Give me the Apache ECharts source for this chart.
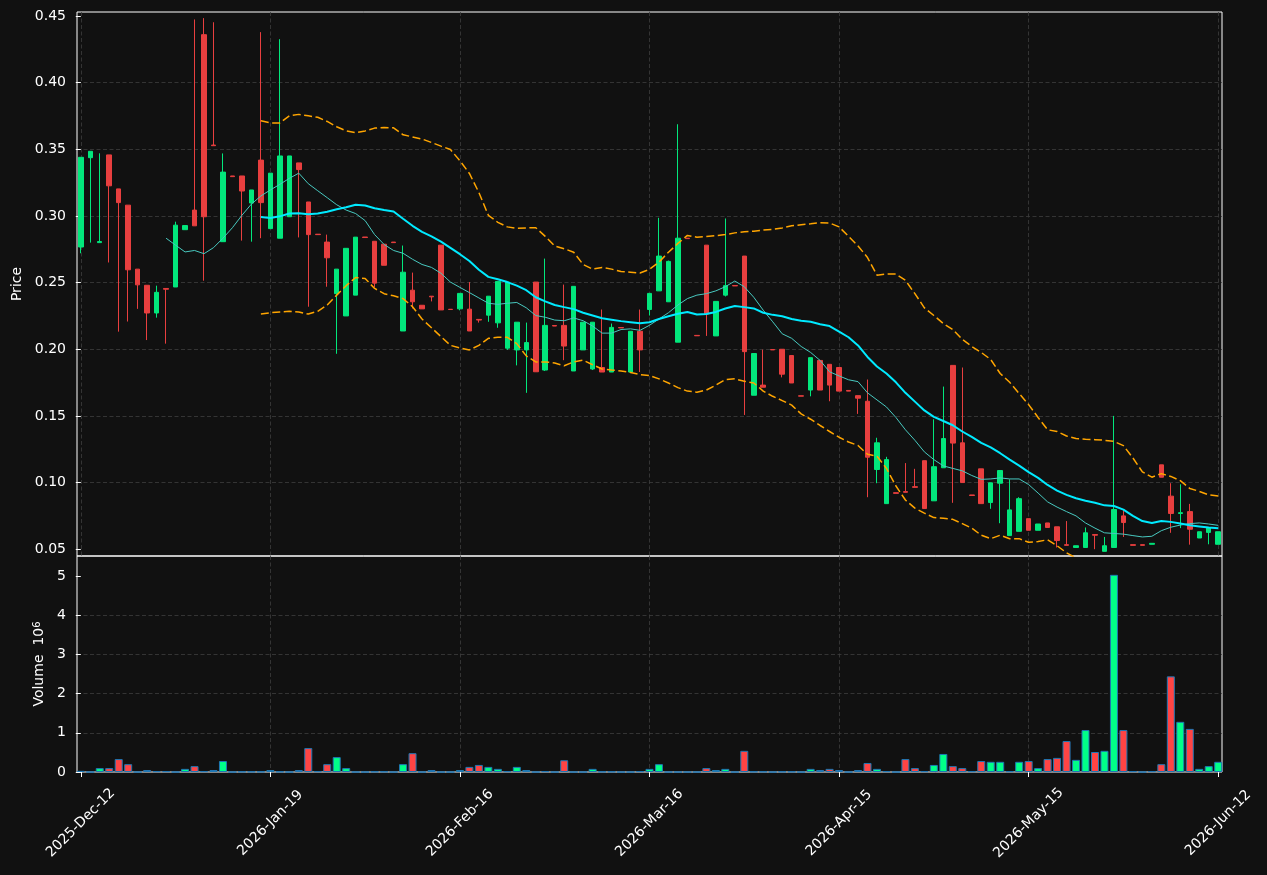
<!DOCTYPE html>
<html>
<head>
<meta charset="utf-8">
<script src="https://cdn.jsdelivr.net/npm/echarts@6.0.0/dist/echarts.min.js"></script>
<style>
  html, body { margin: 0; padding: 0; background: #111111; }
  #main { width: 1267px; height: 875px; }
</style>
</head>
<body>
<div id="main"></div>
<script>
  const dates = [
    '2025-Dec-12','2025-Dec-15','2025-Dec-16','2025-Dec-17','2025-Dec-18','2025-Dec-19','2025-Dec-22','2025-Dec-23','2025-Dec-29','2025-Dec-30',
    '2026-Jan-05','2026-Jan-06','2026-Jan-07','2026-Jan-08','2026-Jan-09','2026-Jan-12','2026-Jan-13','2026-Jan-14','2026-Jan-15','2026-Jan-16',
    '2026-Jan-19','2026-Jan-20','2026-Jan-21','2026-Jan-22','2026-Jan-23','2026-Jan-26','2026-Jan-27','2026-Jan-28','2026-Jan-29','2026-Jan-30',
    '2026-Feb-02','2026-Feb-03','2026-Feb-04','2026-Feb-05','2026-Feb-06','2026-Feb-09','2026-Feb-10','2026-Feb-11','2026-Feb-12','2026-Feb-13',
    '2026-Feb-16','2026-Feb-17','2026-Feb-18','2026-Feb-19','2026-Feb-20','2026-Feb-23','2026-Feb-24','2026-Feb-25','2026-Feb-26','2026-Feb-27',
    '2026-Mar-02','2026-Mar-03','2026-Mar-04','2026-Mar-05','2026-Mar-06','2026-Mar-09','2026-Mar-10','2026-Mar-11','2026-Mar-12','2026-Mar-13',
    '2026-Mar-16','2026-Mar-17','2026-Mar-18','2026-Mar-19','2026-Mar-20','2026-Mar-23','2026-Mar-24','2026-Mar-25','2026-Mar-26','2026-Mar-27',
    '2026-Mar-30','2026-Mar-31','2026-Apr-01','2026-Apr-02','2026-Apr-07','2026-Apr-08','2026-Apr-09','2026-Apr-10','2026-Apr-13','2026-Apr-14',
    '2026-Apr-15','2026-Apr-16','2026-Apr-17','2026-Apr-20','2026-Apr-21','2026-Apr-22','2026-Apr-23','2026-Apr-24','2026-Apr-27','2026-Apr-28',
    '2026-Apr-29','2026-Apr-30','2026-May-04','2026-May-05','2026-May-06','2026-May-07','2026-May-08','2026-May-11','2026-May-12','2026-May-13',
    '2026-May-15','2026-May-18','2026-May-19','2026-May-20','2026-May-21','2026-May-22','2026-May-25','2026-May-26','2026-May-27','2026-May-28',
    '2026-May-29','2026-Jun-01','2026-Jun-02','2026-Jun-03','2026-Jun-04','2026-Jun-05','2026-Jun-08','2026-Jun-09','2026-Jun-10','2026-Jun-11',
    '2026-Jun-12'
  ];

  const opens = [
    0.2767,0.3437,0.2800,0.3458,0.3203,0.3081,0.2601,0.2480,0.2272,0.2456,
    0.2467,0.2897,0.3044,0.4360,0.3532,0.2807,0.3300,0.3300,0.3097,0.3419,
    0.2905,0.2833,0.2994,0.3398,0.3105,0.2863,0.2804,0.2417,0.2250,0.2406,
    0.2842,0.2810,0.2788,0.2804,0.2137,0.2443,0.2330,0.2398,0.2781,0.2300,
    0.2303,0.2301,0.2224,0.2256,0.2198,0.2008,0.1995,0.1995,0.2504,0.1844,
    0.2178,0.2179,0.1837,0.1995,0.1852,0.1863,0.1829,0.2163,0.1829,0.2135,
    0.2298,0.2438,0.2356,0.2053,0.2833,0.2104,0.2781,0.2100,0.2406,0.2478,
    0.2699,0.1655,0.1731,0.1998,0.2000,0.1953,0.1651,0.1694,0.1916,0.1887,
    0.1863,0.1691,0.1652,0.1610,0.1098,0.0842,0.0924,0.0932,0.0969,0.1164,
    0.0863,0.1111,0.1879,0.1298,0.0907,0.1103,0.0850,0.0995,0.0602,0.0634,
    0.0729,0.0642,0.0697,0.0668,0.0534,0.0513,0.0513,0.0610,0.0484,0.0513,
    0.0750,0.0534,0.0534,0.0537,0.1133,0.0898,0.0768,0.0782,0.0584,0.0626,
    0.0537
  ];
  const closes = [
    0.3440,0.3485,0.2808,0.3226,0.3100,0.2596,0.2483,0.2272,0.2427,0.2450,
    0.2931,0.2928,0.2926,0.2994,0.3527,0.3329,0.3295,0.3187,0.3195,0.3100,
    0.3321,0.3450,0.3450,0.3348,0.2860,0.2860,0.2686,0.2601,0.2757,0.2841,
    0.2838,0.2496,0.2630,0.2800,0.2578,0.2356,0.2303,0.2393,0.2295,0.2298,
    0.2419,0.2137,0.2219,0.2398,0.2509,0.2504,0.2203,0.2050,0.1831,0.2179,
    0.2174,0.2024,0.2472,0.2203,0.2203,0.1829,0.2164,0.2160,0.2135,0.1995,
    0.2419,0.2699,0.2659,0.2833,0.2830,0.2101,0.2264,0.2359,0.2477,0.2475,
    0.1982,0.1968,0.1715,0.1995,0.1813,0.1747,0.1648,0.1937,0.1694,0.1731,
    0.1686,0.1686,0.1633,0.1190,0.1298,0.1172,0.0919,0.0927,0.0964,0.0805,
    0.1119,0.1330,0.1296,0.1000,0.0903,0.0842,0.0998,0.1090,0.0795,0.0879,
    0.0642,0.0689,0.0663,0.0565,0.0529,0.0526,0.0623,0.0605,0.0526,0.0798,
    0.0700,0.0529,0.0529,0.0544,0.1040,0.0768,0.0774,0.0650,0.0631,0.0660,
    0.0631
  ];
  const lows = [
    0.2720,0.2800,0.2800,0.2651,0.2132,0.2208,0.2303,0.2069,0.2237,0.2042,
    0.2467,0.2897,0.2926,0.2514,0.3527,0.2807,0.3295,0.2815,0.2807,0.2833,
    0.2905,0.2833,0.2994,0.2839,0.2319,0.2860,0.2469,0.1966,0.2250,0.2406,
    0.2838,0.2464,0.2630,0.2800,0.2137,0.2306,0.2303,0.2359,0.2295,0.2298,
    0.2292,0.2137,0.2200,0.2206,0.2161,0.1995,0.1879,0.1673,0.1831,0.1837,
    0.2174,0.1918,0.1837,0.1995,0.1844,0.1829,0.1829,0.2160,0.1829,0.1829,
    0.2253,0.2438,0.2356,0.2053,0.2830,0.2101,0.2100,0.2100,0.2396,0.2475,
    0.1507,0.1655,0.1715,0.1995,0.1789,0.1747,0.1648,0.1647,0.1694,0.1610,
    0.1686,0.1686,0.1515,0.0890,0.0995,0.0842,0.0919,0.0927,0.0964,0.0805,
    0.0863,0.1111,0.0848,0.1000,0.0903,0.0842,0.0803,0.0695,0.0602,0.0634,
    0.0642,0.0642,0.0663,0.0513,0.0529,0.0513,0.0513,0.0500,0.0484,0.0513,
    0.0592,0.0529,0.0529,0.0537,0.1040,0.0623,0.0658,0.0534,0.0584,0.0537,
    0.0537
  ];
  const highs = [
    0.3440,0.3485,0.3470,0.3458,0.3203,0.3081,0.2601,0.2480,0.2477,0.2456,
    0.2957,0.2928,0.4474,0.4484,0.4453,0.3469,0.3300,0.3300,0.3195,0.4379,
    0.3321,0.4326,0.3450,0.3398,0.3105,0.2863,0.2860,0.2601,0.2757,0.2841,
    0.2842,0.2810,0.2788,0.2804,0.2778,0.2575,0.2330,0.2398,0.2781,0.2300,
    0.2419,0.2504,0.2224,0.2398,0.2509,0.2504,0.2203,0.2200,0.2504,0.2680,
    0.2178,0.2485,0.2472,0.2203,0.2203,0.2298,0.2193,0.2163,0.2135,0.2298,
    0.2419,0.2986,0.2665,0.3688,0.2833,0.2104,0.2781,0.2359,0.2981,0.2478,
    0.2699,0.1968,0.1997,0.1998,0.2000,0.1953,0.1651,0.1937,0.1916,0.1887,
    0.1863,0.1691,0.1652,0.1773,0.1336,0.1193,0.0924,0.1146,0.1103,0.1164,
    0.1475,0.1720,0.1879,0.1863,0.0907,0.1103,0.0998,0.1090,0.1024,0.0890,
    0.0729,0.0689,0.0697,0.0668,0.0711,0.0526,0.0663,0.0610,0.0592,0.1500,
    0.0792,0.0534,0.0534,0.0544,0.1133,0.0995,0.0987,0.0840,0.0631,0.0660,
    0.0631
  ];
  // volume in millions
  const volumes = [
    0.03,0,0.10,0.10,0.33,0.20,0,0.05,0.02,0.02,
    0,0.08,0.15,0.02,0.05,0.28,0,0.01,0.01,0.01,
    0.05,0.01,0,0.05,0.61,0.02,0.20,0.38,0.10,0,
    0,0.01,0.01,0,0.20,0.48,0,0.05,0,0,
    0.05,0.13,0.18,0.13,0.08,0.02,0.13,0.05,0,0.02,
    0,0.30,0,0,0.08,0.01,0.01,0,0,0.02,
    0.08,0.20,0,0,0,0,0.10,0.05,0.08,0,
    0.54,0.01,0.01,0,0.01,0.01,0,0.08,0.05,0.08,
    0.05,0,0.05,0.23,0.08,0.02,0,0.33,0.10,0.02,
    0.18,0.46,0.15,0.10,0.02,0.28,0.26,0.26,0.02,0.26,
    0.28,0.10,0.33,0.36,0.79,0.31,1.07,0.51,0.54,5.03,
    1.07,0.02,0,0.02,0.20,2.44,1.28,1.10,0.08,0.15,
    0.26
  ];
  const ma10 = [
    null,null,null,null,null,null,null,null,null,0.2833,
    0.2781,0.2730,0.2741,0.2717,0.2762,0.2833,0.2912,0.3005,0.3089,0.3150,
    0.3195,0.3237,0.3282,0.3321,0.3242,0.3189,0.3137,0.3084,0.3044,0.3018,
    0.2965,0.2860,0.2786,0.2741,0.2720,0.2675,0.2636,0.2614,0.2570,0.2504,
    0.2464,0.2425,0.2385,0.2345,0.2337,0.2345,0.2351,0.2311,0.2253,0.2240,
    0.2219,0.2214,0.2235,0.2214,0.2174,0.2121,0.2121,0.2148,0.2153,0.2142,
    0.2180,0.2227,0.2274,0.2332,0.2380,0.2406,0.2417,0.2438,0.2469,0.2512,
    0.2469,0.2390,0.2293,0.2206,0.2116,0.2082,0.2021,0.1976,0.1916,0.1831,
    0.1800,0.1771,0.1757,0.1673,0.1620,0.1567,0.1488,0.1396,0.1317,0.1230,
    0.1172,0.1125,0.1106,0.1088,0.1053,0.1024,0.1027,0.1035,0.1027,0.1027,
    0.0985,0.0921,0.0855,0.0816,0.0782,0.0750,0.0697,0.0658,0.0623,0.0618,
    0.0613,0.0602,0.0592,0.0597,0.0639,0.0665,0.0681,0.0692,0.0697,0.0689,
    0.0679
  ];
  const ma20 = [
    null,null,null,null,null,null,null,null,null,null,
    null,null,null,null,null,null,null,null,null,0.2992,
    0.2984,0.2997,0.3018,0.3021,0.3013,0.3018,0.3031,0.3050,0.3065,0.3084,
    0.3079,0.3058,0.3044,0.3034,0.2979,0.2926,0.2881,0.2847,0.2807,0.2760,
    0.2713,0.2662,0.2596,0.2543,0.2525,0.2504,0.2477,0.2443,0.2390,0.2359,
    0.2332,0.2316,0.2301,0.2274,0.2253,0.2232,0.2222,0.2211,0.2203,0.2195,
    0.2203,0.2227,0.2248,0.2266,0.2280,0.2261,0.2264,0.2280,0.2306,0.2324,
    0.2316,0.2306,0.2274,0.2258,0.2248,0.2227,0.2214,0.2206,0.2187,0.2174,
    0.2132,0.2090,0.2029,0.1942,0.1871,0.1818,0.1752,0.1673,0.1607,0.1541,
    0.1493,0.1462,0.1430,0.1383,0.1343,0.1298,0.1264,0.1220,0.1172,0.1127,
    0.1078,0.1035,0.0982,0.0940,0.0908,0.0882,0.0863,0.0848,0.0829,0.0824,
    0.0797,0.0750,0.0711,0.0697,0.0711,0.0705,0.0692,0.0679,0.0671,0.0663,
    0.0658
  ];
  const bbUpper = [
    null,null,null,null,null,null,null,null,null,null,
    null,null,null,null,null,null,null,null,null,0.3714,
    0.3698,0.3698,0.3751,0.3762,0.3751,0.3740,0.3709,0.3669,0.3638,0.3624,
    0.3638,0.3659,0.3664,0.3661,0.3609,0.3593,0.3577,0.3551,0.3524,0.3498,
    0.3414,0.3319,0.3176,0.3005,0.2952,0.2918,0.2907,0.2910,0.2912,0.2847,
    0.2775,0.2754,0.2728,0.2636,0.2601,0.2614,0.2601,0.2583,0.2578,0.2572,
    0.2600,0.2654,0.2728,0.2794,0.2854,0.2841,0.2846,0.2852,0.2860,0.2873,
    0.2881,0.2886,0.2894,0.2900,0.2910,0.2926,0.2934,0.2941,0.2949,0.2947,
    0.2918,0.2847,0.2775,0.2688,0.2556,0.2564,0.2564,0.2517,0.2417,0.2311,
    0.2253,0.2193,0.2148,0.2074,0.2021,0.1976,0.1923,0.1818,0.1752,0.1668,
    0.1585,0.1488,0.1396,0.1383,0.1349,0.1330,0.1325,0.1322,0.1317,0.1309,
    0.1277,0.1185,0.1080,0.1040,0.1067,0.1046,0.1014,0.0956,0.0934,0.0908,
    0.0900
  ];
  const bbLower = [
    null,null,null,null,null,null,null,null,null,null,
    null,null,null,null,null,null,null,null,null,0.2264,
    0.2274,0.2280,0.2285,0.2280,0.2264,0.2285,0.2332,0.2406,0.2477,0.2538,
    0.2530,0.2456,0.2417,0.2401,0.2380,0.2319,0.2227,0.2161,0.2095,0.2029,
    0.2009,0.1995,0.2029,0.2082,0.2090,0.2090,0.2042,0.1950,0.1905,0.1905,
    0.1897,0.1876,0.1905,0.1918,0.1884,0.1852,0.1844,0.1837,0.1826,0.1810,
    0.1803,0.1778,0.1747,0.1712,0.1686,0.1678,0.1694,0.1731,0.1773,0.1778,
    0.1760,0.1747,0.1686,0.1647,0.1615,0.1581,0.1515,0.1475,0.1428,0.1383,
    0.1340,0.1304,0.1278,0.1212,0.1198,0.1106,0.0974,0.0869,0.0808,0.0771,
    0.0737,0.0732,0.0724,0.0692,0.0658,0.0605,0.0579,0.0605,0.0579,0.0579,
    0.0552,0.0557,0.0571,0.0526,0.0473,0.0434,0.0401,0.0374,0.0341,0.0339,
    0.0317,0.0315,0.0342,0.0354,0.0355,0.0364,0.0370,0.0402,0.0408,0.0418,
    0.0416
  ];

  const priceTicks = [0.05, 0.10, 0.15, 0.20, 0.25, 0.30, 0.35, 0.40, 0.45];
  const volumeTicks = [0, 1, 2, 3, 4, 5];
  const dateTicks = [0, 20, 40, 60, 80, 100, 120];

  const UP = '#02e77c', DOWN = '#e83f3f';
  const VOL_UP = '#00ff88', VOL_DOWN = '#ff4444';

  const chart = echarts.init(document.getElementById('main'));

  const candles = dates.map((d, i) => [i, opens[i], closes[i], lows[i], highs[i]]);
  const pairs = arr => arr.map((v, i) => [i, v]);

  const txt = { fontFamily: 'DejaVu Sans', fontSize: 14, color: '#ffffff' };
  const gridLine = {
    show: true,
    showMinLine: false,
    showMaxLine: false,
    lineStyle: { color: '#3d3d3d', type: [4, 2.5], width: 0.8 }
  };

  const option = {
    backgroundColor: '#111111',
    animation: false,
    grid: [
      { left: 77, right: 45, top: 12, height: 544, show: true, borderColor: '#ffffff', borderWidth: 1 },
      { left: 77, right: 45, top: 556, height: 216, show: true, borderColor: '#ffffff', borderWidth: 1 }
    ],
    xAxis: [
      {
        type: 'value', gridIndex: 0, min: -0.4, max: 120.4, minInterval: 20, maxInterval: 20,
        axisLine: { show: false }, axisTick: { show: false }, axisLabel: { show: false },
        splitLine: gridLine
      },
      {
        type: 'value', gridIndex: 1, min: -0.4, max: 120.4, minInterval: 20, maxInterval: 20,
        axisLine: { show: false },
        axisTick: { show: true, customValues: dateTicks, length: 5, lineStyle: { color: '#ffffff' } },
        axisLabel: {
          ...txt, customValues: dateTicks, rotate: 45, margin: 51,
          align: 'center', verticalAlign: 'middle',
          formatter: v => dates[Math.round(v)] || ''
        },
        splitLine: gridLine
      }
    ],
    yAxis: [
      {
        type: 'value', gridIndex: 0, min: 0.0449, max: 0.4530, minInterval: 0.05, maxInterval: 0.05,
        name: 'Price', nameLocation: 'middle', nameGap: 51, nameRotate: 90,
        nameTextStyle: { ...txt },
        axisLine: { show: false },
        axisTick: { show: true, customValues: priceTicks, length: 5, lineStyle: { color: '#ffffff' } },
        axisLabel: { ...txt, customValues: priceTicks, margin: 11, formatter: v => v.toFixed(2) },
        splitLine: gridLine
      },
      {
        type: 'value', gridIndex: 1, min: 0, max: 5.51, interval: 1,
        name: '{n|Volume  10}{sup|6}', nameLocation: 'middle', nameGap: 29, nameRotate: 90,
        nameTextStyle: {
          rich: {
            n: { ...txt },
            sup: { fontFamily: 'DejaVu Sans', fontSize: 10, color: '#ffffff', verticalAlign: 'top' }
          }
        },
        axisLine: { show: false },
        axisTick: { show: true, customValues: volumeTicks, length: 5, lineStyle: { color: '#ffffff' } },
        axisLabel: { ...txt, customValues: volumeTicks, margin: 11, formatter: v => String(v) },
        splitLine: gridLine
      }
    ],
    series: [
      {
        type: 'candlestick', xAxisIndex: 0, yAxisIndex: 0,
        data: candles, encode: { x: 0, y: [1, 2, 3, 4] },
        barWidth: 5,
        itemStyle: { color: UP, color0: DOWN, borderColor: UP, borderColor0: DOWN, borderWidth: 1 }
      },
      {
        type: 'line', xAxisIndex: 0, yAxisIndex: 0, data: pairs(bbUpper), showSymbol: false,
        lineStyle: { color: '#ffa500', width: 1.5, type: [8, 3.5] }
      },
      {
        type: 'line', xAxisIndex: 0, yAxisIndex: 0, data: pairs(bbLower), showSymbol: false,
        lineStyle: { color: '#ffa500', width: 1.5, type: [8, 3.5] }
      },
      {
        type: 'line', xAxisIndex: 0, yAxisIndex: 0, data: pairs(ma10), showSymbol: false,
        lineStyle: { color: '#48c9c0', width: 1 }
      },
      {
        type: 'line', xAxisIndex: 0, yAxisIndex: 0, data: pairs(ma20), showSymbol: false,
        lineStyle: { color: '#00eaff', width: 2 }
      },
      {
        type: 'bar', xAxisIndex: 1, yAxisIndex: 1, data: pairs(volumes),
        barWidth: 8,
        itemStyle: {
          color: p => closes[p.dataIndex] >= opens[p.dataIndex] ? VOL_UP : VOL_DOWN,
          borderColor: '#1f77b4', borderWidth: 1
        }
      }
    ]
  };

  chart.setOption(option);
</script>
</body>
</html>
